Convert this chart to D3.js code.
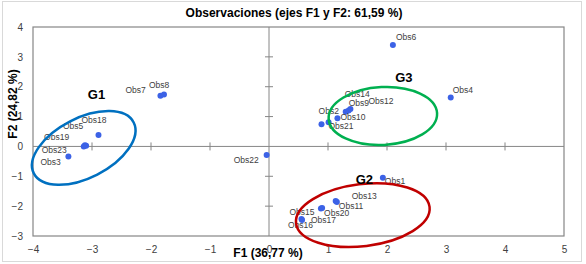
<!DOCTYPE html>
<meta charset="utf-8">
<style>
body { margin: 0; background: #fff; }
text { font-family: "Liberation Sans", Arial, sans-serif; }
.tick text { fill: #404040; font-size: 10px; }
.obs { fill: #404040; font-size: 8.5px; }
.grp { font-size: 13px; font-weight: bold; fill: #000; }
.ttl { font-size: 12px; font-weight: bold; fill: #000; }
</style>
<body>
<script src="https://d3js.org/d3.v7.min.js"></script>
<script>

// observations (F1, F2)
var names = ["Obs1","Obs2","Obs3","Obs4","Obs5","Obs6","Obs7","Obs8","Obs9","Obs10","Obs11","Obs12",
             "Obs13","Obs14","Obs15","Obs16","Obs17","Obs18","Obs19","Obs20","Obs21","Obs22","Obs23"];
var f1 = [1.93, 1.01, -3.40, 3.08, -3.12, 2.10, -1.84, -1.78, 1.35, 1.16, 1.15, 1.38,
          1.13, 1.30, 0.55, 0.56, 0.88, -2.89, -3.10, 0.90, 0.89, -0.04, -3.14];
var f2 = [-1.05, 0.81, -0.34, 1.64, 0.04, 3.40, 1.70, 1.74, 1.20, 0.94, -1.86, 1.25,
          -1.83, 1.16, -2.43, -2.46, -2.08, 0.38, 0.02, -2.06, 0.74, -0.29, 0.00];

// groups: label and ellipse (centre / radii in axis units)
var groups = ["G1", "G2", "G3"];
var groupLabelX = [-3.07, 1.47, 2.14];
var groupLabelY = [1.59, -1.26, 2.15];
var ellCx = [-3.14, 1.59, 1.93];
var ellCy = [-0.05, -2.30, 1.02];
var ellRx = [0.95, 1.14, 0.92];
var ellRy = [1.00, 1.04, 0.97];
var ellColors = ["#0070c0", "#c00000", "#00b050"];
var ellAngle = [-27, -7, -3];

var xTicks = [-4, -3, -2, -1, 0, 1, 2, 3, 4, 5];
var yTicks = [-3, -2, -1, 0, 1, 2, 3, 4];

// label offsets in px (dx, dy) from the point
var labelOff = {
  Obs1:[2,6.5], Obs2:[-10,-8], Obs3:[-28,8], Obs4:[2,-4], Obs5:[-22,-16], Obs6:[3,-5],
  Obs7:[-35,-3], Obs8:[-15,-6], Obs9:[0,-5], Obs10:[3,2], Obs11:[2,7], Obs12:[18,-5],
  Obs13:[16,-2], Obs14:[-1,-15], Obs15:[-12,-4], Obs16:[-14,8], Obs17:[-10,14], Obs18:[-17,-12],
  Obs19:[-42,-6], Obs20:[2,8], Obs21:[7,5], Obs22:[-33,8], Obs23:[-42,7]
};

var W = 586, H = 264;
var margin = {top: 27, right: 22, bottom: 28, left: 33},
    width = 564 - margin.left,
    height = 236 - margin.top;

var svg = d3.select("body").append("svg")
    .attr("width", W)
    .attr("height", H);

// outer chart frame
svg.append("rect")
    .attr("x", 2.5).attr("y", 1.5)
    .attr("width", 579).attr("height", 260)
    .attr("fill", "#fff").attr("stroke", "#d9d9d9");

var g = svg.append("g")
    .attr("transform", "translate(" + margin.left + "," + margin.top + ")");

var x = d3.scaleLinear().domain([-4, 5]).range([0, width]);
var y = d3.scaleLinear().domain([-3, 4]).range([height, 0]);

// plot area box
g.append("rect")
    .attr("width", width).attr("height", height)
    .attr("fill", "none").attr("stroke", "#868686").attr("stroke-width", 1.2);

// tick labels on the frame edges
var xa = g.append("g")
    .attr("transform", "translate(0," + height + ")")
    .call(d3.axisBottom(x).tickValues(xTicks).tickSize(0).tickPadding(10).tickFormat(d3.format("d")));
xa.select(".domain").remove();

var ya = g.append("g")
    .call(d3.axisLeft(y).tickValues(yTicks).tickSize(0).tickPadding(10).tickFormat(d3.format("d")));
ya.select(".domain").remove();

// axes through the origin with cross ticks
var zero = g.append("g").attr("stroke", "#868686").attr("stroke-width", 1);
zero.append("line").attr("x1", 0).attr("x2", width).attr("y1", y(0)).attr("y2", y(0));
zero.append("line").attr("x1", x(0)).attr("x2", x(0)).attr("y1", 0).attr("y2", height);
zero.selectAll(".xt").data(xTicks.filter(function(d) { return d > -4 && d < 5 && d != 0; }))
  .enter().append("line")
    .attr("x1", function(d) { return x(d); }).attr("x2", function(d) { return x(d); })
    .attr("y1", y(0) - 4).attr("y2", y(0) + 4);
zero.selectAll(".yt").data(yTicks.filter(function(d) { return d > -3 && d < 4 && d != 0; }))
  .enter().append("line")
    .attr("y1", function(d) { return y(d); }).attr("y2", function(d) { return y(d); })
    .attr("x1", x(0) - 4).attr("x2", x(0) + 4);

// points
var data = names.map(function(n, i) { return {name: n, f1: f1[i], f2: f2[i]}; });

g.selectAll(".pt")
    .data(data)
  .enter().append("circle")
    .attr("r", 3)
    .attr("cx", function(d) { return x(d.f1); })
    .attr("cy", function(d) { return y(d.f2); })
    .attr("fill", "#3c62e6");

g.selectAll(".obs")
    .data(data)
  .enter().append("text")
    .attr("class", "obs")
    .attr("x", function(d) { return x(d.f1) + labelOff[d.name][0]; })
    .attr("y", function(d) { return y(d.f2) + labelOff[d.name][1]; })
    .text(function(d) { return d.name; });

// group ellipses
groups.forEach(function(gr, i) {
  var cx = x(ellCx[i]), cy = y(ellCy[i]);
  g.append("ellipse")
      .attr("cx", cx).attr("cy", cy)
      .attr("rx", x(ellRx[i]) - x(0))
      .attr("ry", y(0) - y(ellRy[i]))
      .attr("transform", "rotate(" + ellAngle[i] + "," + cx + "," + cy + ")")
      .attr("fill", "none")
      .attr("stroke", ellColors[i])
      .attr("stroke-width", 2.5);
  g.append("text")
      .attr("class", "grp")
      .attr("x", x(groupLabelX[i]))
      .attr("y", y(groupLabelY[i]))
      .text(gr);
});

// titles
svg.append("text")
    .attr("class", "ttl")
    .attr("x", 294).attr("y", 17)
    .attr("text-anchor", "middle")
    .text("Observaciones (ejes F1 y F2: 61,59 %)");

svg.append("text")
    .attr("class", "ttl")
    .attr("x", 268).attr("y", 257)
    .attr("text-anchor", "middle")
    .text("F1 (36,77 %)");

svg.append("text")
    .attr("class", "ttl")
    .attr("transform", "translate(17,104) rotate(-90)")
    .attr("text-anchor", "middle")
    .text("F2 (24,82 %)");

</script>
</body>
